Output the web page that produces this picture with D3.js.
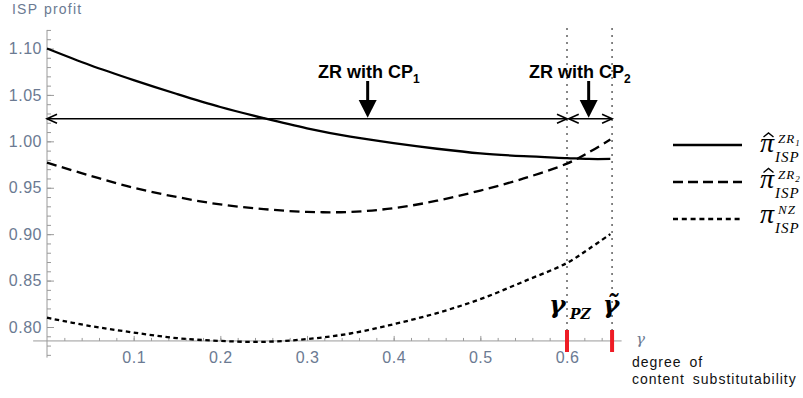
<!DOCTYPE html>
<html><head><meta charset="utf-8">
<script src="https://cdn.jsdelivr.net/npm/d3@7"></script>
<style>body{margin:0;background:#fff}svg{display:block}</style>
</head><body>
<svg id="c" width="803" height="398"></svg>
<script>
// ---- data ----
const gamma = [0, 0.05, 0.1, 0.15, 0.2, 0.25, 0.3, 0.35, 0.4, 0.45, 0.5, 0.55, 0.6, 0.625, 0.65];
const zr1 = [1.100, 1.082, 1.066, 1.051, 1.037, 1.025, 1.014, 1.005, 0.998, 0.992, 0.987, 0.984, 0.982, 0.981, 0.981];
const zr2 = [0.977, 0.963, 0.950, 0.940, 0.932, 0.927, 0.924, 0.924, 0.928, 0.936, 0.947, 0.960, 0.976, 0.988, 1.002];
const nz  = [0.810, 0.801, 0.794, 0.788, 0.785, 0.784, 0.787, 0.793, 0.803, 0.815, 0.830, 0.849, 0.869, 0.884, 0.900];
const xTickValues = [0.1, 0.2, 0.3, 0.4, 0.5, 0.6];
const yTickValues = [0.80, 0.85, 0.90, 0.95, 1.00, 1.05, 1.10];
const gammaPZ = 0.6, gammaTilde = 0.652;
const arrowLevel = 1.0243, axisCross = 0.785;
const cp1At = 0.37, cp2At = 0.625;
const legendSup = ["ZR", "ZR", "NZ"];
const legendSupIdx = ["1", "2", ""];
const legendHat = [true, true, false];
const legendDash = [null, "10,5", "5,3.8"];

const svg = d3.select("#c");
svg.append("rect").attr("width", 803).attr("height", 398).attr("fill", "#fff");
const x = d3.scaleLinear().domain([0, 0.6]).range([47, 567]);
const y = d3.scaleLinear().domain([0.80, 1.10]).range([327, 48.5]);
const axisCol = "#9a9a9a", labCol = "#6b7a92";

// y axis
const yMinor = d3.range(0.77, 1.1201, 0.01);
const gyMinor = svg.append("g").attr("transform", `translate(${x(0)},0)`)
  .call(d3.axisLeft(y).tickValues(yMinor).tickSize(-4).tickFormat(""));
const gy = svg.append("g").attr("transform", `translate(${x(0)},0)`)
  .call(d3.axisLeft(y).tickValues(yTickValues).tickSize(-7).tickPadding(5).tickFormat(d3.format(".2f")));
// x axis
const xMinor = d3.range(0.02, 0.66, 0.02);
const gxMinor = svg.append("g").attr("transform", `translate(0,${y(axisCross)})`)
  .call(d3.axisBottom(x).tickValues(xMinor).tickSize(-3).tickFormat(""));
const gx = svg.append("g").attr("transform", `translate(0,${y(axisCross)})`)
  .call(d3.axisBottom(x).tickValues(xTickValues).tickSize(-5).tickPadding(11).tickFormat(d3.format(".1f")));
[gy, gx, gyMinor, gxMinor].forEach(g => {
  g.select(".domain").remove();
  g.selectAll(".tick line").attr("stroke", axisCol);
  g.selectAll("text").attr("fill", labCol).attr("font-family", "Liberation Sans, Arial, sans-serif")
    .attr("font-size", 16).attr("letter-spacing", 0.5);
});
svg.append("line").attr("x1", x(0)).attr("x2", x(0)).attr("y1", y(1.12)).attr("y2", y(0.767))
  .attr("stroke", axisCol);
svg.append("line").attr("x1", x(-0.016)).attr("x2", x(0.663)).attr("y1", y(axisCross)).attr("y2", y(axisCross))
  .attr("stroke", axisCol);

// vertical dotted guides
[gammaPZ, gammaTilde].forEach(g => {
  svg.append("line").attr("x1", x(g)).attr("x2", x(g)).attr("y1", 28).attr("y2", y(axisCross))
    .attr("stroke", "#555").attr("stroke-width", 1.4).attr("stroke-dasharray", "2,5");
});

// curves
const line = d3.line().x((d, i) => x(gamma[i])).y(d => y(d)).curve(d3.curveCatmullRom.alpha(0.5));
const series = [[zr1, null], [zr2, "10,5.5"], [nz, "4.5,3.5"]];
series.forEach(([vals, dash]) => {
  const p = svg.append("path").attr("d", line(vals)).attr("fill", "none")
    .attr("stroke", "#000").attr("stroke-width", 2.3);
  if (dash) p.attr("stroke-dasharray", dash);
});

// horizontal double arrows
const ay = y(arrowLevel);
function dblArrow(a, b) {
  const xa = x(a), xb = x(b);
  svg.append("line").attr("x1", xa).attr("x2", xb).attr("y1", ay).attr("y2", ay)
    .attr("stroke", "#000").attr("stroke-width", 1.6);
  svg.append("path").attr("d", `M${xa + 10},${ay - 4.5}L${xa},${ay}L${xa + 10},${ay + 4.5}`)
    .attr("fill", "none").attr("stroke", "#000").attr("stroke-width", 1.6);
  svg.append("path").attr("d", `M${xb - 10},${ay - 4.5}L${xb},${ay}L${xb - 10},${ay + 4.5}`)
    .attr("fill", "none").attr("stroke", "#000").attr("stroke-width", 1.6);
}
dblArrow(0, gammaPZ);
dblArrow(gammaPZ + 0.002, gammaTilde);

// down arrows and labels
function downArrow(v) {
  const cx = x(v);
  svg.append("line").attr("x1", cx).attr("x2", cx).attr("y1", 81).attr("y2", 101)
    .attr("stroke", "#000").attr("stroke-width", 3);
  svg.append("path").attr("d", `M${cx - 9},100L${cx + 9},100L${cx},${ay - 1}Z`).attr("fill", "#000");
}
downArrow(cp1At); downArrow(cp2At);
function zrLabel(x0, sub) {
  const t = svg.append("text").attr("x", x0).attr("y", 78)
    .attr("font-family", "Liberation Sans, Arial, sans-serif").attr("font-weight", "bold").attr("font-size", 18);
  t.append("tspan").text("ZR with CP");
  t.append("tspan").attr("font-size", 12).attr("dy", 5).text(sub);
}
zrLabel(318, "1");
zrLabel(529, "2");

// red marks on the axis
[gammaPZ, gammaTilde].forEach(g => {
  svg.append("line").attr("x1", x(g)).attr("x2", x(g)).attr("y1", 330).attr("y2", 352)
    .attr("stroke", "#ee1c25").attr("stroke-width", 4);
});

// gamma labels
const gl = svg.append("text").attr("x", x(gammaPZ) - 18).attr("y", 313)
  .attr("font-family", "DejaVu Serif, serif").attr("font-weight", "bold").attr("font-style", "italic").attr("font-size", 25);
gl.append("tspan").text("γ");
gl.append("tspan").attr("font-size", 14).attr("x", x(gammaPZ) + 3).attr("dy", 6).text("PZ");
svg.append("text").attr("x", x(gammaTilde) - 1).attr("y", 313).attr("text-anchor", "middle")
  .attr("font-family", "DejaVu Serif, serif").attr("font-weight", "bold").attr("font-style", "italic").attr("font-size", 25)
  .text("γ\u0303");

// axis titles
svg.append("text").attr("x", 12).attr("y", 14).attr("fill", labCol)
  .attr("font-family", "Liberation Sans, Arial, sans-serif").attr("font-size", 14).attr("letter-spacing", 1.2)
  .attr("word-spacing", 1).text("ISP profit");
svg.append("text").attr("x", 636).attr("y", 344).attr("fill", labCol)
  .attr("font-family", "DejaVu Serif, serif").attr("font-style", "italic").attr("font-size", 15).text("γ");
["degree of", "content substitutability"].forEach((s, i) => {
  svg.append("text").attr("x", 632).attr("y", 367 + i * 17).attr("fill", "#111")
    .attr("font-family", "Liberation Sans, Arial, sans-serif").attr("font-size", 14)
    .attr("letter-spacing", 1.0).attr("word-spacing", 3).text(s);
});

// legend
legendSup.forEach((sup, i) => {
  const ly = 145 + i * 37;
  const l = svg.append("line").attr("x1", 673).attr("x2", 742).attr("y1", ly).attr("y2", ly)
    .attr("stroke", "#000").attr("stroke-width", 2.5);
  if (legendDash[i]) l.attr("stroke-dasharray", legendDash[i]);
  const base = 152 + i * 35.5;
  svg.append("text").attr("x", 760).attr("y", base)
    .attr("font-family", "Liberation Serif, serif").attr("font-style", "italic").attr("font-size", 28).text("π");
  const sp = svg.append("text").attr("x", 778).attr("y", base - 9)
    .attr("font-family", "Liberation Serif, serif").attr("font-style", "italic");
  sp.append("tspan").attr("font-size", 13).attr("letter-spacing", 1).text(sup);
  if (legendSupIdx[i]) sp.append("tspan").attr("font-size", 9).attr("dy", 3).text(legendSupIdx[i]);
  svg.append("text").attr("x", 775).attr("y", base + 10)
    .attr("font-family", "Liberation Serif, serif").attr("font-style", "italic")
    .attr("font-size", 15).attr("letter-spacing", 1).text("ISP");
  if (legendHat[i]) {
    svg.append("path").attr("d", `M763.5,${base - 15}L768.5,${base - 19}L773.5,${base - 15}`)
      .attr("fill", "none").attr("stroke", "#000").attr("stroke-width", 1.4);
  }
});
</script>
</body></html>
